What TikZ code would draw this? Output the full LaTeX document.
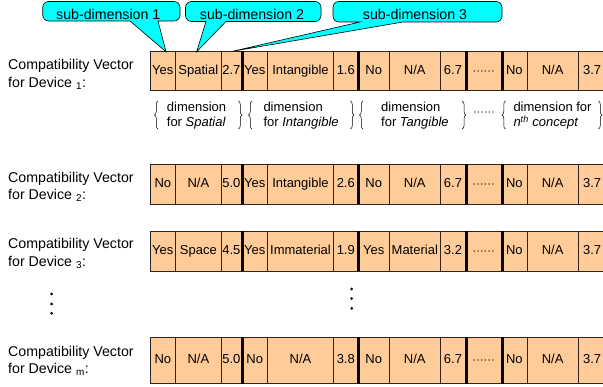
\documentclass[tikz,border=0pt]{standalone}
\usepackage{fontspec}
\setmainfont{Liberation Sans}
\usetikzlibrary{decorations.pathreplacing}
\definecolor{peach}{RGB}{255,204,153}
\definecolor{callcyan}{RGB}{0,255,255}
\definecolor{edgecol}{RGB}{45,35,25}
\def\colb{150,175.7,221,241.7,267.7,333.3,358.3,389.3,440.3,465.7,501.7,527,578.3,606}
\newcommand\mydots{{\fontsize{11}{11}\selectfont ······}}
\newcommand\vecrow[4]{%
  \foreach \t [count=\i] in {#4}{%
    \pgfmathsetmacro\myxa{{\colb}[\i-1]}%
    \pgfmathsetmacro\myxb{{\colb}[\i]}%
    \pgfmathsetmacro\mycw{\myxb-\myxa}%
    \pgfmathsetmacro\mych{#3-#2}%
    \pgfmathsetmacro\myxc{(\myxa+\myxb)/2}%
    \pgfmathsetmacro\myyc{(#2+#3)/2}%
    \node[cellbox, minimum width=\mycw pt, minimum height=\mych pt] (#1c\i) at (\myxc,\myyc) {\t};
  }
  \foreach \k in {3,6,9,10}{\draw[barline] (#1c\k.north east) -- (#1c\k.south east);}
}
\begin{document}
\begin{tikzpicture}[x=1pt,y=-1pt,
  cellbox/.style={draw=edgecol, line width=0.8pt, fill=peach, inner sep=0pt,
    font=\fontsize{13}{15}\selectfont, text height=9.5pt, text depth=2.5pt},
  barline/.style={line width=3pt, draw=black},
  callout/.style={fill=callcyan, draw=black, line width=0.6pt},
  calltext/.style={font=\fontsize{14.2}{16}\selectfont, inner sep=0pt, anchor=base},
  rowlabel/.style={align=left, font=\fontsize{14.2}{17.3}\selectfont, inner sep=0pt, anchor=west},
  dimtext/.style={align=left, font=\fontsize{13}{15.6}\selectfont, inner sep=0pt, anchor=west},
  brc/.style={decorate, decoration={brace, amplitude=3.5pt}, line width=0.5pt},
  vdot/.style={fill=black}]
\useasboundingbox (0,0) rectangle (603,387);
\clip (0,0) rectangle (603,387);

% vectors
\vecrow{r1}{51.7}{90}{Yes,Spatial,2.7,Yes,Intangible,1.6,No,N/A,6.7,\mydots,No,N/A,3.7}
\vecrow{r2}{164.3}{204}{No,N/A,5.0,Yes,Intangible,2.6,No,N/A,6.7,\mydots,No,N/A,3.7}
\vecrow{r3}{231.7}{271}{Yes,Space,4.5,Yes,Immaterial,1.9,Yes,Material,3.2,\mydots,No,N/A,3.7}
\vecrow{r4}{337}{383.3}{No,N/A,5.0,No,N/A,3.8,No,N/A,6.7,\mydots,No,N/A,3.7}

% row labels
\node[rowlabel] (lab1) at (8,74.3) {Compatibility Vector\\for Device \textsubscript{1}:};
\node[rowlabel] (lab2) at (8,187) {Compatibility Vector\\for Device \textsubscript{2}:};
\node[rowlabel] (lab3) at (8,253.5) {Compatibility Vector\\for Device \textsubscript{3}:};
\node[rowlabel] (lab4) at (8,361) {Compatibility Vector\\for Device \textsubscript{m}:};

% callouts
\coordinate (t1) at (166,51.7);
\coordinate (t2) at (196.7,51.7);
\coordinate (t3) at (233,51.2);
\filldraw[callout] (130,21) [rounded corners=6pt] -- (42.7,21) -- (42.7,1.5) -- (180,1.5) -- (180,21) [sharp corners] -- (158,21) -- (t1) -- cycle;
\filldraw[callout] (206,21.5) [rounded corners=6pt] -- (185.5,21.5) -- (185.5,1.5) -- (321,1.5) -- (321,21.5) [sharp corners] -- (226,21.5) -- (t2) -- cycle;
\filldraw[callout] (360,22) [rounded corners=6pt] -- (333,22) -- (333,1.5) -- (502,1.5) -- (502,22) [sharp corners] -- (403,22) -- (t3) -- cycle;
\node[calltext] (sd1) at (108.3,19.5) {sub-dimension 1};
\node[calltext] (sd2) at (252,19.5) {sub-dimension 2};
\node[calltext] (sd3) at (415,19.8) {sub-dimension 3};

% dimension braces
\draw[brc] (158,129) -- (158,101);
\draw[brc] (238.5,101) -- (238.5,129);
\draw[brc] (252,129) -- (252,101);
\draw[brc] (350.5,101) -- (350.5,129);
\draw[brc] (363,129) -- (363,101);
\draw[brc] (462.3,101) -- (462.3,129);
\draw[brc] (505.5,129) -- (505.5,101);
\draw[brc] (598.5,101) -- (598.5,129);
\node[dimtext] (d1) at (166.7,115.5) {dimension\\for \textit{Spatial}};
\node[dimtext] (d2) at (263.3,115.5) {dimension\\for \textit{Intangible}};
\node[dimtext] (d3) at (381,115.5) {dimension\\for \textit{Tangible}};
\node[dimtext] (d4) at (513.3,115.5) {dimension for\\\textit{n\textsuperscript{th} concept}};
\node[inner sep=0pt] (ddots) at (484,114) {\mydots};

% vertical ellipses
\fill[vdot] (51.7,294) circle (1.5);
\fill[vdot] (51.7,304) circle (1.5);
\fill[vdot] (51.7,313.3) circle (1.5);
\fill[vdot] (351.7,289) circle (1.5);
\fill[vdot] (351.7,298.5) circle (1.5);
\fill[vdot] (351.7,308.3) circle (1.5);
\end{tikzpicture}
\end{document}
